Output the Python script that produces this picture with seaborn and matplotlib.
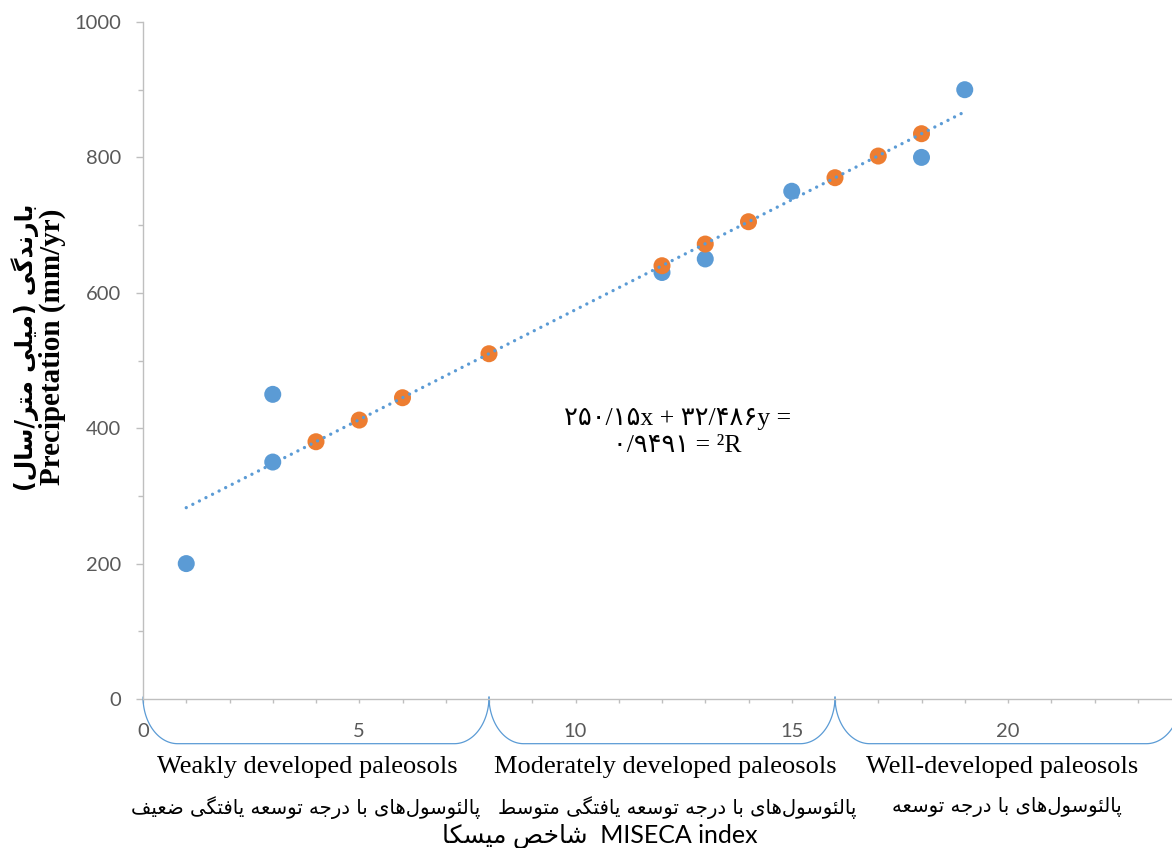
import numpy as np
import matplotlib
matplotlib.use("Agg")
import matplotlib.pyplot as plt
import matplotlib.transforms as mtransforms
import seaborn as sns

# observed precipitation (blue) and values on the fitted line (orange)
miseca_obs = [1, 3, 3, 12, 13, 15, 18, 19]
precip_obs = [200, 350, 450, 630, 650, 750, 800, 900]
miseca_fit = [4, 5, 6, 8, 12, 13, 14, 16, 17, 18]
precip_fit = [380, 412, 445, 510, 640, 672, 705, 770, 802, 835]

# paleosol development groups along the MISECA axis
group_edges = [0, 8, 16, 24]
group_en = ["Weakly developed paleosols", "Moderately developed paleosols", "Well-developed paleosols"]
group_fa = ["پالئوسول‌های با درجه توسعه یافتگی ضعیف",
            "پالئوسول‌های با درجه توسعه یافتگی متوسط",
            "پالئوسول‌های با درجه توسعه"]

ylabel_fa = "بارندگی (میلی متر/سال)"
ylabel_en = "Precipetation (mm/yr)"
xlabel_fa = "شاخص میسکا"
xlabel_en = "MISECA index"
equation = "۲۵۰/۱۵x + ۳۲/۴۸۶y =\n۰/۹۴۹۱ = ²R"

BLUE = "#5B9BD5"
ORANGE = "#ED7D31"
AXGRAY = "#BFBFBF"
TXTGRAY = "#595959"

# Persian letters -> presentation forms (isolated, final, initial, medial)
FORMS = {
    "ا": (0xFE8D, 0xFE8E), "ب": (0xFE8F, 0xFE90, 0xFE91, 0xFE92),
    "پ": (0xFB56, 0xFB57, 0xFB58, 0xFB59), "ت": (0xFE95, 0xFE96, 0xFE97, 0xFE98),
    "ج": (0xFE9D, 0xFE9E, 0xFE9F, 0xFEA0), "خ": (0xFEA5, 0xFEA6, 0xFEA7, 0xFEA8),
    "د": (0xFEA9, 0xFEAA), "ر": (0xFEAD, 0xFEAE),
    "س": (0xFEB1, 0xFEB2, 0xFEB3, 0xFEB4), "ش": (0xFEB5, 0xFEB6, 0xFEB7, 0xFEB8),
    "ص": (0xFEB9, 0xFEBA, 0xFEBB, 0xFEBC), "ض": (0xFEBD, 0xFEBE, 0xFEBF, 0xFEC0),
    "ط": (0xFEC1, 0xFEC2, 0xFEC3, 0xFEC4), "ع": (0xFEC9, 0xFECA, 0xFECB, 0xFECC),
    "ف": (0xFED1, 0xFED2, 0xFED3, 0xFED4), "ک": (0xFB8E, 0xFB8F, 0xFB90, 0xFB91),
    "گ": (0xFB92, 0xFB93, 0xFB94, 0xFB95), "ل": (0xFEDD, 0xFEDE, 0xFEDF, 0xFEE0),
    "م": (0xFEE1, 0xFEE2, 0xFEE3, 0xFEE4), "ن": (0xFEE5, 0xFEE6, 0xFEE7, 0xFEE8),
    "ه": (0xFEE9, 0xFEEA, 0xFEEB, 0xFEEC), "و": (0xFEED, 0xFEEE),
    "ی": (0xFBFC, 0xFBFD, 0xFBFE, 0xFBFF), "ئ": (0xFE89, 0xFE8A, 0xFE8B, 0xFE8C),
}


def fa(text):
    # shape the letters and put them in visual (left-to-right) order
    out = []
    for i, c in enumerate(text):
        f = FORMS.get(c)
        if f is None:
            out.append(c)
            continue
        prev = text[i - 1] if i > 0 else ""
        nxt = text[i + 1] if i + 1 < len(text) else ""
        join_prev = prev in FORMS and len(FORMS[prev]) == 4
        join_next = len(f) == 4 and nxt in FORMS
        if join_prev and join_next:
            cp = f[3]
        elif join_prev:
            cp = f[1]
        elif join_next:
            cp = f[2]
        else:
            cp = f[0]
        out.append(chr(cp))
    s = "".join(out).replace("\u200c", "")[::-1]
    return s.translate(str.maketrans("()", ")("))


sns.set_theme(style="ticks")
plt.rcParams["font.family"] = ["Lato", "DejaVu Sans"]
SERIF = ["Liberation Serif", "DejaVu Sans"]

fig = plt.figure(figsize=(11.72, 8.48), dpi=100)
ax = fig.add_axes([143 / 1172, 149 / 848, 1038 / 1172, 677 / 848])

sns.scatterplot(x=miseca_obs, y=precip_obs, color=BLUE, s=150, edgecolor="none", zorder=3, ax=ax)
sns.scatterplot(x=miseca_fit, y=precip_fit, color=ORANGE, s=150, edgecolor="none", zorder=4, ax=ax)
sns.regplot(x=miseca_obs, y=precip_obs, scatter=False, ci=None, color=BLUE, ax=ax,
            line_kws=dict(lw=2.4, linestyle=(0, (0.01, 2.2)), dash_capstyle="round", zorder=5))

ax.set_xlim(0, 24)
ax.set_ylim(0, 1000)
ax.set_xticks(range(0, 21, 5))
ax.set_xticks(range(0, 25), minor=True)
ax.set_yticks(range(0, 1001, 200))
ax.set_yticks(range(0, 1001, 100), minor=True)
ax.tick_params(axis="y", which="major", length=5, width=1, color=AXGRAY,
               labelcolor=TXTGRAY, labelsize=14.5, pad=11)
ax.tick_params(axis="y", which="minor", length=3.4, width=1, color=AXGRAY)
ax.tick_params(axis="x", which="both", length=3.2, width=1, color=AXGRAY,
               labelcolor=TXTGRAY, labelsize=14.5, pad=14)
sns.despine(ax=ax)
for side in ["left", "bottom"]:
    ax.spines[side].set_color(AXGRAY)
    ax.spines[side].set_linewidth(1)

# group brackets under the x axis
t = np.linspace(0, np.pi / 2, 40)
w, top, bot = 0.8, 3, -66
for x0, x1 in zip(group_edges[:-1], group_edges[1:]):
    cx = x0 + w - w * np.cos(t)
    cy = top - (top - bot) * np.sin(t)
    bx = np.concatenate([cx, (x1 - (cx - x0))[::-1]])
    by = np.concatenate([cy, cy[::-1]])
    ax.plot(bx, by, color=BLUE, lw=0.9, clip_on=False, zorder=2)

# group captions (centres given in figure pixels)
en_px = [307, 665, 1002]
fa_px = [306, 677, 1007]
blend = mtransforms.blended_transform_factory(fig.transFigure, ax.transAxes)
for en, pf, xe, xf in zip(group_en, group_fa, en_px, fa_px):
    ax.text(xe / 1172, -0.100, en, transform=blend, ha="center", va="center",
            fontsize=19, family=SERIF, color="black")
    ax.text(xf / 1172, -0.160, fa(pf), transform=blend, ha="center", va="center",
            fontsize=14.1, family=["DejaVu Sans"], color="black")

ax.set_xlabel(fa(xlabel_fa) + "  " + xlabel_en, fontsize=18, color="black",
              family=["Lato", "DejaVu Sans"], va="center")
ax.xaxis.set_label_coords(0.44, -0.203)

ax.set_ylabel(ylabel_en, fontsize=21, fontweight="bold", family=SERIF,
              color="black", va="center")
ax.yaxis.set_label_coords(-0.0877, 0.52)
ax.text(-0.1137, 0.52, fa(ylabel_fa), transform=ax.transAxes, rotation=90,
        ha="center", va="center", fontsize=17, fontweight="bold",
        family=["DejaVu Sans"], color="black")

ax.text(12.35, 394, equation, ha="center", va="center", fontsize=18.5,
        family=SERIF, color="black", linespacing=1.3)

fig.savefig("out.png", dpi=100)
